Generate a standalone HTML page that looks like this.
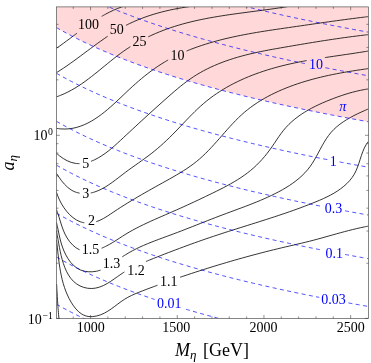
<!DOCTYPE html>
<html><head><meta charset="utf-8"><title>plot</title>
<style>html,body{margin:0;padding:0;background:#fff}svg{display:block}</style></head>
<body>
<svg width="371" height="363" viewBox="0 0 371 363">
<defs><filter id="g"><feOffset dx="0" dy="0"/></filter><clipPath id="c"><rect x="56.50" y="6.90" width="311.90" height="311.50"/></clipPath></defs>
<rect width="371" height="363" fill="#fff"/>
<g clip-path="url(#c)">
<path d="M56.50 6.90 L56.50 27.61 L60.50 29.88 L64.50 32.09 L68.50 34.23 L72.50 36.32 L76.50 38.36 L80.50 40.35 L84.50 42.29 L88.50 44.18 L92.50 46.03 L96.50 47.83 L100.50 49.60 L104.50 51.33 L108.50 53.02 L112.50 54.68 L116.50 56.31 L120.50 57.90 L124.50 59.46 L128.50 60.99 L132.50 62.49 L136.50 63.97 L140.50 65.41 L144.50 66.84 L148.50 68.23 L152.50 69.61 L156.50 70.96 L160.50 72.29 L164.50 73.59 L168.50 74.88 L172.50 76.14 L176.50 77.39 L180.50 78.61 L184.50 79.82 L188.50 81.01 L192.50 82.18 L196.50 83.34 L200.50 84.48 L204.50 85.60 L208.50 86.71 L212.50 87.80 L216.50 88.88 L220.50 89.94 L224.50 90.99 L228.50 92.03 L232.50 93.05 L236.50 94.06 L240.50 95.06 L244.50 96.05 L248.50 97.02 L252.50 97.98 L256.50 98.93 L260.50 99.87 L264.50 100.80 L268.50 101.72 L272.50 102.62 L276.50 103.52 L280.50 104.41 L284.50 105.28 L288.50 106.15 L292.50 107.01 L296.50 107.86 L300.50 108.70 L304.50 109.53 L308.50 110.35 L312.50 111.17 L316.50 111.98 L320.50 112.77 L324.50 113.57 L328.50 114.35 L332.50 115.12 L336.50 115.89 L340.50 116.65 L344.50 117.41 L348.50 118.15 L352.50 118.89 L356.50 119.62 L360.50 120.35 L364.50 121.07 L368.40 121.77 L368.40 6.90 Z" fill="#ffd9d9"/>
<g fill="none" stroke="#000" stroke-width="0.8">
<path d="M56.50 48.30C57.07 47.89 58.80 46.67 59.94 45.85C61.09 45.03 62.23 44.20 63.37 43.36C64.51 42.53 65.65 41.69 66.78 40.84C67.92 40.00 69.05 39.15 70.19 38.30C71.32 37.45 72.45 36.59 73.59 35.74C74.72 34.89 76.43 33.62 77.00 33.19M101.73 16.34C102.37 15.98 104.28 14.88 105.58 14.18C106.87 13.48 108.18 12.79 109.50 12.14C110.82 11.48 112.15 10.84 113.49 10.23C114.84 9.63 116.20 9.04 117.57 8.49C118.95 7.93 120.34 7.41 121.74 6.91C123.15 6.41 125.30 5.75 126.01 5.51"/>
<path d="M56.52 72.62C57.11 72.25 58.86 71.16 60.02 70.42C61.18 69.67 62.34 68.91 63.49 68.14C64.64 67.37 65.79 66.59 66.93 65.80C68.07 65.02 69.21 64.22 70.34 63.41C71.48 62.61 72.61 61.80 73.73 60.98C74.86 60.16 75.99 59.34 77.11 58.51C78.24 57.69 79.36 56.85 80.48 56.02C81.61 55.19 82.73 54.35 83.85 53.51C84.97 52.68 86.09 51.84 87.21 51.00C88.33 50.16 89.46 49.32 90.58 48.49C91.70 47.65 92.83 46.82 93.96 45.99C95.08 45.16 96.21 44.33 97.35 43.51C98.48 42.69 99.62 41.88 100.76 41.07C101.90 40.26 103.04 39.46 104.19 38.66C105.34 37.87 107.07 36.70 107.65 36.31M126.00 25.35C126.62 25.04 128.47 24.10 129.73 23.50C130.98 22.90 132.24 22.31 133.51 21.75C134.78 21.18 136.06 20.63 137.34 20.10C138.63 19.57 139.92 19.05 141.22 18.55C142.52 18.05 143.82 17.56 145.14 17.09C146.45 16.62 147.77 16.17 149.09 15.73C150.42 15.29 151.75 14.86 153.08 14.45C154.42 14.04 155.76 13.65 157.10 13.26C158.45 12.88 159.80 12.51 161.15 12.16C162.50 11.80 163.86 11.46 165.22 11.13C166.58 10.81 167.94 10.49 169.31 10.19C170.67 9.89 172.04 9.60 173.41 9.32C174.78 9.04 176.15 8.78 177.52 8.52C178.89 8.27 180.27 8.03 181.64 7.80C183.01 7.57 184.39 7.35 185.76 7.14C187.13 6.93 188.51 6.73 189.88 6.54C191.26 6.36 193.31 6.10 194.00 6.01"/>
<path d="M56.51 96.82C57.16 96.58 59.11 95.90 60.38 95.40C61.66 94.90 62.91 94.37 64.15 93.81C65.39 93.25 66.61 92.67 67.82 92.06C69.03 91.45 70.22 90.82 71.40 90.17C72.59 89.52 73.75 88.84 74.91 88.15C76.06 87.46 77.21 86.74 78.34 86.01C79.48 85.28 80.60 84.53 81.71 83.77C82.83 83.01 83.93 82.23 85.03 81.44C86.12 80.65 87.21 79.84 88.29 79.03C89.38 78.21 90.45 77.39 91.53 76.55C92.60 75.72 93.66 74.88 94.73 74.03C95.79 73.18 96.85 72.33 97.91 71.47C98.96 70.61 100.02 69.75 101.07 68.88C102.13 68.02 103.18 67.15 104.23 66.29C105.29 65.42 106.34 64.56 107.40 63.70C108.46 62.83 109.52 61.97 110.58 61.12C111.64 60.26 112.70 59.41 113.78 58.57C114.85 57.73 115.92 56.89 117.00 56.06C118.08 55.24 119.17 54.42 120.26 53.61C121.36 52.81 122.46 52.01 123.57 51.23C124.68 50.45 125.80 49.68 126.93 48.93C128.06 48.18 129.78 47.08 130.35 46.71M148.21 36.84C148.82 36.55 150.64 35.68 151.87 35.13C153.10 34.57 154.33 34.02 155.56 33.49C156.80 32.96 158.04 32.44 159.29 31.93C160.54 31.43 161.79 30.93 163.05 30.45C164.31 29.97 165.57 29.50 166.84 29.04C168.10 28.59 169.37 28.14 170.65 27.71C171.92 27.28 173.20 26.86 174.48 26.45C175.77 26.04 177.05 25.65 178.34 25.26C179.63 24.88 180.92 24.51 182.22 24.14C183.51 23.78 184.81 23.43 186.11 23.08C187.42 22.74 188.72 22.41 190.03 22.09C191.34 21.76 192.65 21.45 193.96 21.14C195.27 20.84 196.59 20.54 197.91 20.26C199.22 19.97 200.54 19.69 201.87 19.42C203.19 19.14 204.51 18.88 205.84 18.62C207.17 18.36 208.49 18.11 209.82 17.87C211.15 17.63 212.49 17.39 213.82 17.16C215.15 16.92 216.49 16.70 217.82 16.48C219.16 16.26 220.50 16.04 221.84 15.83C223.17 15.62 224.51 15.41 225.85 15.21C227.19 15.01 228.53 14.81 229.88 14.62C231.22 14.42 232.56 14.23 233.90 14.04C235.25 13.85 236.59 13.67 237.93 13.49C239.28 13.30 240.62 13.12 241.96 12.94C243.31 12.76 244.65 12.58 246.00 12.41C247.34 12.23 248.68 12.06 250.03 11.88C251.37 11.70 252.71 11.53 254.05 11.35C255.40 11.18 256.74 11.00 258.08 10.83C259.42 10.65 260.76 10.48 262.10 10.30C263.43 10.12 264.77 9.94 266.11 9.76C267.44 9.58 268.78 9.40 270.11 9.21C271.45 9.03 272.78 8.84 274.11 8.65C275.44 8.45 276.77 8.26 278.10 8.06C279.42 7.86 280.75 7.66 282.07 7.46C283.39 7.25 284.71 7.04 286.03 6.82C287.35 6.61 289.32 6.27 289.98 6.16"/>
<path d="M56.47 128.36C57.19 128.45 59.36 128.78 60.78 128.90C62.20 129.01 63.59 129.05 64.97 129.04C66.35 129.02 67.71 128.94 69.05 128.80C70.39 128.67 71.72 128.47 73.02 128.23C74.33 127.98 75.62 127.68 76.89 127.33C78.16 126.98 79.42 126.59 80.66 126.15C81.89 125.71 83.12 125.22 84.32 124.70C85.53 124.18 86.72 123.61 87.90 123.02C89.08 122.42 90.24 121.79 91.39 121.13C92.54 120.47 93.68 119.77 94.80 119.05C95.92 118.34 97.03 117.59 98.13 116.82C99.23 116.05 100.32 115.26 101.40 114.44C102.47 113.63 103.54 112.79 104.60 111.94C105.66 111.09 106.71 110.22 107.76 109.33C108.80 108.45 109.84 107.54 110.87 106.63C111.90 105.72 112.93 104.79 113.95 103.86C114.97 102.93 115.99 101.98 117.01 101.04C118.02 100.09 119.03 99.13 120.04 98.18C121.05 97.22 122.06 96.26 123.07 95.30C124.08 94.34 125.09 93.38 126.10 92.42C127.11 91.47 128.12 90.51 129.14 89.56C130.15 88.62 131.17 87.67 132.19 86.74C133.21 85.81 134.24 84.88 135.27 83.97C136.30 83.06 137.34 82.15 138.38 81.26C139.42 80.36 140.46 79.48 141.51 78.60C142.56 77.73 143.62 76.86 144.68 76.01C145.75 75.16 146.81 74.32 147.89 73.49C148.97 72.66 150.05 71.84 151.14 71.04C152.23 70.23 153.33 69.44 154.43 68.66C155.54 67.88 156.65 67.12 157.78 66.36C158.90 65.61 160.03 64.87 161.17 64.15C162.31 63.42 163.46 62.71 164.62 62.02C165.77 61.32 167.54 60.32 168.12 59.98M186.57 51.04C187.19 50.79 189.06 50.02 190.31 49.53C191.57 49.04 192.83 48.56 194.09 48.09C195.35 47.62 196.62 47.17 197.89 46.72C199.17 46.28 200.44 45.84 201.72 45.42C203.00 44.99 204.29 44.58 205.57 44.18C206.86 43.77 208.15 43.38 209.44 43.00C210.73 42.61 212.02 42.24 213.31 41.87C214.61 41.51 215.90 41.15 217.20 40.80C218.50 40.45 219.80 40.11 221.10 39.78C222.40 39.45 223.71 39.13 225.01 38.81C226.32 38.49 227.63 38.19 228.94 37.89C230.25 37.58 231.56 37.29 232.87 37.00C234.18 36.72 235.49 36.44 236.81 36.16C238.12 35.89 239.44 35.62 240.76 35.36C242.08 35.09 243.39 34.84 244.71 34.59C246.03 34.33 247.36 34.09 248.68 33.85C250.00 33.61 251.32 33.37 252.65 33.14C253.97 32.91 255.30 32.68 256.62 32.45C257.95 32.23 259.28 32.01 260.60 31.79C261.93 31.58 263.26 31.36 264.59 31.15C265.91 30.94 267.24 30.74 268.57 30.53C269.90 30.33 271.23 30.12 272.56 29.92C273.89 29.72 275.22 29.53 276.55 29.33C277.89 29.13 279.22 28.94 280.55 28.74C281.88 28.55 283.21 28.35 284.54 28.16C285.87 27.97 287.20 27.78 288.53 27.59C289.86 27.39 291.19 27.20 292.52 27.01C293.86 26.82 295.19 26.63 296.52 26.43C297.85 26.24 299.17 26.05 300.50 25.86C301.83 25.66 303.16 25.47 304.49 25.28C305.82 25.09 307.15 24.89 308.48 24.70C309.81 24.51 311.14 24.32 312.47 24.13C313.80 23.93 315.13 23.74 316.45 23.55C317.78 23.36 319.11 23.17 320.44 22.98C321.77 22.79 323.10 22.60 324.43 22.41C325.76 22.22 327.09 22.04 328.42 21.85C329.75 21.66 331.08 21.48 332.41 21.29C333.74 21.11 335.07 20.92 336.40 20.74C337.73 20.55 339.06 20.37 340.39 20.19C341.72 20.01 343.05 19.83 344.38 19.65C345.71 19.47 347.05 19.29 348.38 19.12C349.71 18.94 351.04 18.77 352.38 18.59C353.71 18.42 355.04 18.25 356.38 18.08C357.71 17.91 359.05 17.74 360.38 17.57C361.72 17.41 363.05 17.24 364.39 17.08C365.73 16.91 367.73 16.67 368.40 16.59"/>
<path d="M56.50 153.30C57.04 153.75 58.58 155.13 59.71 156.00C60.84 156.87 62.04 157.74 63.27 158.53C64.50 159.31 65.79 160.06 67.10 160.70C68.41 161.35 69.77 161.93 71.13 162.37C72.49 162.82 73.89 163.16 75.28 163.37C76.68 163.59 78.79 163.60 79.49 163.65M91.03 161.31C91.64 161.04 93.51 160.30 94.73 159.72C95.94 159.14 97.14 158.51 98.31 157.84C99.49 157.17 100.65 156.46 101.78 155.72C102.92 154.99 104.03 154.22 105.12 153.43C106.21 152.64 107.28 151.83 108.34 151.00C109.40 150.17 110.43 149.32 111.46 148.46C112.49 147.60 113.50 146.72 114.51 145.83C115.51 144.95 116.51 144.04 117.50 143.14C118.49 142.24 119.47 141.32 120.46 140.41C121.44 139.50 122.42 138.58 123.40 137.66C124.38 136.75 125.36 135.83 126.34 134.92C127.32 134.01 128.30 133.09 129.29 132.18C130.27 131.27 131.25 130.36 132.23 129.44C133.22 128.53 134.20 127.62 135.19 126.71C136.17 125.80 137.15 124.89 138.14 123.98C139.13 123.07 140.11 122.17 141.10 121.26C142.09 120.35 143.08 119.44 144.07 118.54C145.05 117.63 146.04 116.73 147.04 115.82C148.03 114.92 149.02 114.01 150.01 113.11C151.01 112.21 152.00 111.30 153.00 110.40C153.99 109.50 154.99 108.60 155.99 107.70C156.99 106.80 157.99 105.90 158.99 105.00C159.99 104.10 160.99 103.20 162.00 102.30C163.00 101.40 164.01 100.51 165.02 99.61C166.03 98.71 167.04 97.82 168.05 96.92C169.06 96.03 170.07 95.14 171.09 94.25C172.11 93.36 173.13 92.48 174.15 91.60C175.18 90.72 176.21 89.84 177.24 88.98C178.28 88.12 179.32 87.26 180.37 86.41C181.42 85.56 182.47 84.73 183.53 83.90C184.59 83.08 185.66 82.26 186.74 81.46C187.82 80.66 188.91 79.88 190.01 79.11C191.11 78.34 192.22 77.59 193.34 76.85C194.45 76.12 195.59 75.40 196.73 74.70C197.87 74.00 199.02 73.32 200.18 72.66C201.34 71.99 202.52 71.34 203.70 70.71C204.88 70.08 206.07 69.47 207.27 68.87C208.47 68.27 209.68 67.69 210.89 67.12C212.11 66.56 213.33 66.01 214.56 65.47C215.79 64.93 217.03 64.41 218.28 63.90C219.52 63.40 220.77 62.90 222.03 62.42C223.29 61.94 224.55 61.48 225.82 61.03C227.09 60.57 228.36 60.13 229.64 59.71C230.92 59.28 232.20 58.87 233.49 58.46C234.77 58.06 236.06 57.67 237.36 57.29C238.65 56.91 239.95 56.55 241.25 56.19C242.54 55.83 243.85 55.49 245.15 55.15C246.45 54.82 247.76 54.49 249.07 54.18C250.37 53.86 251.68 53.56 252.99 53.26C254.30 52.96 255.61 52.67 256.93 52.39C258.24 52.10 259.56 51.83 260.87 51.56C262.19 51.29 263.50 51.03 264.82 50.77C266.14 50.51 267.46 50.26 268.78 50.01C270.10 49.76 271.42 49.52 272.74 49.28C274.06 49.04 275.39 48.80 276.71 48.57C278.03 48.33 279.36 48.10 280.68 47.87C282.00 47.64 283.33 47.41 284.65 47.18C285.98 46.95 287.30 46.72 288.63 46.49C289.95 46.26 291.27 46.03 292.60 45.81C293.92 45.58 295.25 45.35 296.57 45.13C297.90 44.90 299.23 44.68 300.55 44.46C301.88 44.23 303.20 44.01 304.53 43.79C305.86 43.57 307.18 43.35 308.51 43.13C309.83 42.91 311.16 42.69 312.49 42.47C313.82 42.26 315.14 42.04 316.47 41.83C317.80 41.62 319.13 41.41 320.45 41.20C321.78 40.99 323.11 40.78 324.44 40.57C325.77 40.37 327.10 40.16 328.43 39.96C329.76 39.76 331.09 39.56 332.42 39.36C333.75 39.16 335.08 38.96 336.41 38.77C337.74 38.57 339.07 38.38 340.40 38.19C341.73 38.00 343.06 37.82 344.39 37.63C345.72 37.45 347.06 37.27 348.39 37.09C349.72 36.91 351.05 36.73 352.39 36.56C353.72 36.39 355.05 36.21 356.39 36.05C357.72 35.88 359.06 35.71 360.39 35.55C361.72 35.39 363.06 35.23 364.40 35.08C365.73 34.92 367.73 34.70 368.40 34.62"/>
<path d="M56.51 173.39C56.90 173.99 58.03 175.79 58.86 177.01C59.69 178.22 60.56 179.48 61.49 180.68C62.42 181.87 63.40 183.08 64.44 184.20C65.48 185.32 66.56 186.42 67.71 187.40C68.86 188.37 70.07 189.29 71.34 190.06C72.60 190.83 73.94 191.50 75.32 192.02C76.70 192.53 78.89 192.98 79.60 193.18M90.76 193.00C91.39 192.84 93.28 192.42 94.51 192.03C95.75 191.64 96.97 191.18 98.18 190.67C99.38 190.16 100.58 189.59 101.76 188.98C102.94 188.37 104.11 187.70 105.27 187.01C106.43 186.31 107.58 185.57 108.72 184.81C109.86 184.05 111.00 183.26 112.12 182.45C113.25 181.64 114.37 180.80 115.48 179.97C116.59 179.13 117.70 178.27 118.80 177.43C119.91 176.58 121.01 175.72 122.11 174.88C123.20 174.03 124.30 173.19 125.39 172.37C126.49 171.55 127.58 170.75 128.67 169.95C129.77 169.15 130.86 168.37 131.94 167.59C133.03 166.81 134.12 166.04 135.20 165.27C136.28 164.50 137.37 163.74 138.44 162.98C139.52 162.21 140.59 161.45 141.66 160.69C142.73 159.92 143.80 159.16 144.86 158.38C145.92 157.61 146.98 156.84 148.04 156.05C149.09 155.26 150.14 154.47 151.18 153.66C152.22 152.85 153.26 152.03 154.29 151.19C155.32 150.36 156.35 149.51 157.37 148.64C158.39 147.78 159.40 146.90 160.41 146.02C161.42 145.13 162.42 144.23 163.42 143.32C164.41 142.41 165.40 141.49 166.39 140.56C167.37 139.63 168.35 138.69 169.32 137.74C170.29 136.79 171.26 135.83 172.22 134.87C173.18 133.91 174.13 132.94 175.08 131.97C176.03 131.00 176.97 130.02 177.91 129.04C178.85 128.06 179.79 127.07 180.73 126.09C181.67 125.11 182.60 124.12 183.54 123.14C184.47 122.15 185.41 121.17 186.34 120.19C187.28 119.22 188.22 118.24 189.16 117.27C190.11 116.30 191.05 115.33 192.00 114.38C192.95 113.42 193.91 112.47 194.87 111.53C195.84 110.59 196.80 109.65 197.78 108.73C198.76 107.81 199.74 106.90 200.74 106.01C201.74 105.11 202.74 104.23 203.76 103.36C204.78 102.49 205.80 101.64 206.84 100.80C207.88 99.97 208.93 99.15 210.00 98.34C211.06 97.53 212.13 96.74 213.21 95.96C214.30 95.19 215.39 94.43 216.49 93.68C217.60 92.93 218.71 92.20 219.83 91.48C220.96 90.76 222.09 90.05 223.23 89.36C224.37 88.67 225.52 87.99 226.68 87.33C227.84 86.67 229.01 86.02 230.18 85.38C231.36 84.74 232.54 84.12 233.73 83.51C234.92 82.90 236.12 82.30 237.33 81.72C238.53 81.13 239.75 80.56 240.97 80.00C242.19 79.44 243.41 78.89 244.64 78.36C245.88 77.82 247.11 77.30 248.36 76.78C249.60 76.27 250.85 75.77 252.11 75.28C253.36 74.79 254.62 74.32 255.89 73.85C257.15 73.39 258.42 72.93 259.69 72.49C260.97 72.04 262.24 71.61 263.52 71.19C264.81 70.76 266.09 70.35 267.38 69.95C268.67 69.55 269.96 69.16 271.25 68.77C272.55 68.39 273.85 68.02 275.15 67.66C276.44 67.30 277.75 66.94 279.05 66.60C280.35 66.26 281.66 65.92 282.97 65.60C284.27 65.27 285.58 64.96 286.89 64.65C288.20 64.34 289.51 64.05 290.82 63.76C292.13 63.47 293.45 63.18 294.76 62.91C296.07 62.63 297.39 62.36 298.71 62.10C300.02 61.84 301.34 61.58 302.66 61.34C303.97 61.09 305.95 60.73 306.61 60.61M324.90 57.59C325.62 57.49 327.79 57.16 329.24 56.94C330.69 56.72 332.14 56.51 333.59 56.30C335.03 56.09 336.48 55.87 337.93 55.66C339.38 55.45 340.83 55.24 342.28 55.03C343.73 54.82 345.18 54.61 346.63 54.39C348.09 54.18 349.54 53.97 350.99 53.75C352.44 53.53 353.89 53.32 355.34 53.09C356.79 52.87 358.24 52.65 359.70 52.42C361.15 52.19 362.60 51.96 364.05 51.72C365.50 51.48 367.68 51.12 368.40 51.00"/>
<path d="M56.51 192.31C56.73 192.94 57.32 194.81 57.82 196.09C58.32 197.37 58.89 198.69 59.51 199.99C60.14 201.29 60.82 202.62 61.56 203.91C62.30 205.20 63.10 206.49 63.95 207.73C64.80 208.97 65.71 210.20 66.66 211.36C67.61 212.52 68.62 213.64 69.67 214.68C70.72 215.72 71.82 216.71 72.96 217.60C74.10 218.48 75.29 219.30 76.51 220.00C77.74 220.69 79.00 221.30 80.31 221.77C81.61 222.24 83.65 222.64 84.32 222.82M96.28 221.68C96.90 221.44 98.80 220.77 100.02 220.23C101.25 219.68 102.44 219.05 103.62 218.40C104.80 217.75 105.95 217.03 107.10 216.31C108.25 215.59 109.38 214.82 110.51 214.07C111.65 213.31 112.77 212.53 113.90 211.78C115.03 211.02 116.16 210.27 117.30 209.52C118.43 208.78 119.56 208.05 120.70 207.32C121.84 206.59 122.98 205.87 124.12 205.15C125.26 204.44 126.40 203.73 127.54 203.02C128.69 202.32 129.83 201.62 130.98 200.93C132.13 200.23 133.27 199.55 134.43 198.86C135.58 198.18 136.73 197.50 137.88 196.82C139.04 196.15 140.19 195.48 141.35 194.81C142.51 194.14 143.67 193.47 144.83 192.81C145.99 192.15 147.15 191.48 148.32 190.83C149.48 190.17 150.65 189.51 151.82 188.85C152.99 188.20 154.16 187.54 155.33 186.89C156.50 186.23 157.67 185.58 158.85 184.93C160.02 184.27 161.20 183.62 162.38 182.96C163.55 182.31 164.73 181.65 165.92 181.00C167.10 180.34 168.28 179.68 169.46 179.02C170.64 178.36 171.82 177.69 172.99 177.02C174.17 176.34 175.34 175.67 176.51 174.98C177.68 174.30 178.85 173.60 180.00 172.90C181.16 172.20 182.31 171.49 183.45 170.76C184.59 170.04 185.72 169.31 186.85 168.56C187.97 167.81 189.08 167.05 190.18 166.28C191.28 165.50 192.37 164.71 193.44 163.90C194.51 163.09 195.57 162.27 196.61 161.42C197.66 160.58 198.68 159.72 199.69 158.84C200.71 157.96 201.70 157.06 202.68 156.15C203.67 155.23 204.64 154.30 205.59 153.36C206.55 152.42 207.50 151.46 208.44 150.50C209.37 149.53 210.30 148.56 211.22 147.57C212.14 146.59 213.06 145.59 213.97 144.59C214.87 143.59 215.78 142.58 216.67 141.57C217.57 140.56 218.47 139.55 219.36 138.53C220.26 137.52 221.15 136.50 222.04 135.48C222.93 134.46 223.82 133.44 224.72 132.43C225.61 131.41 226.51 130.40 227.41 129.39C228.31 128.39 229.21 127.38 230.12 126.39C231.03 125.39 231.95 124.40 232.87 123.42C233.80 122.44 234.73 121.47 235.67 120.51C236.61 119.56 237.56 118.61 238.53 117.68C239.49 116.74 240.46 115.82 241.45 114.92C242.44 114.02 243.44 113.13 244.46 112.26C245.47 111.39 246.51 110.54 247.55 109.71C248.60 108.87 249.66 108.06 250.74 107.26C251.81 106.46 252.90 105.68 254.00 104.92C255.10 104.15 256.22 103.41 257.34 102.68C258.47 101.94 259.61 101.23 260.75 100.53C261.90 99.83 263.06 99.15 264.23 98.48C265.39 97.81 266.57 97.16 267.76 96.53C268.95 95.89 270.14 95.27 271.34 94.66C272.55 94.05 273.76 93.46 274.98 92.88C276.19 92.30 277.42 91.73 278.65 91.18C279.88 90.63 281.12 90.09 282.36 89.56C283.60 89.03 284.84 88.52 286.09 88.02C287.34 87.52 288.60 87.03 289.86 86.56C291.11 86.08 292.38 85.61 293.64 85.16C294.91 84.71 296.18 84.27 297.45 83.84C298.73 83.41 300.01 82.99 301.29 82.58C302.57 82.17 303.85 81.77 305.14 81.38C306.43 80.99 307.72 80.62 309.01 80.25C310.30 79.88 311.60 79.52 312.90 79.17C314.20 78.82 315.50 78.48 316.80 78.15C318.11 77.82 319.41 77.49 320.72 77.18C322.03 76.86 323.34 76.56 324.65 76.26C325.97 75.96 327.28 75.67 328.60 75.39C329.91 75.10 331.23 74.83 332.55 74.56C333.87 74.29 335.19 74.02 336.52 73.77C337.84 73.51 339.16 73.26 340.49 73.02C341.81 72.77 343.14 72.53 344.47 72.30C345.80 72.07 347.12 71.84 348.45 71.62C349.78 71.40 351.11 71.18 352.44 70.97C353.77 70.75 355.10 70.55 356.43 70.34C357.76 70.14 359.09 69.94 360.42 69.74C361.75 69.54 363.08 69.35 364.41 69.16C365.74 68.97 367.73 68.69 368.40 68.60"/>
<path d="M56.50 209.70C56.74 210.38 57.50 212.40 57.96 213.76C58.43 215.12 58.84 216.49 59.27 217.86C59.70 219.23 60.10 220.60 60.52 221.97C60.95 223.34 61.36 224.71 61.82 226.06C62.28 227.42 62.75 228.77 63.27 230.10C63.80 231.43 64.35 232.75 64.98 234.05C65.62 235.34 66.29 236.63 67.06 237.88C67.82 239.13 68.67 240.38 69.59 241.54C70.50 242.71 71.50 243.86 72.56 244.89C73.61 245.92 74.74 246.89 75.91 247.71C77.08 248.52 78.97 249.44 79.58 249.79M101.62 248.20C102.26 247.91 104.22 247.08 105.48 246.47C106.74 245.86 107.98 245.20 109.19 244.53C110.39 243.87 111.56 243.18 112.71 242.49C113.86 241.80 114.97 241.09 116.08 240.38C117.18 239.67 118.27 238.95 119.36 238.24C120.45 237.53 121.52 236.82 122.61 236.12C123.71 235.42 124.80 234.73 125.91 234.05C127.02 233.38 128.15 232.71 129.28 232.06C130.42 231.40 131.57 230.76 132.72 230.13C133.88 229.49 135.05 228.87 136.23 228.26C137.40 227.64 138.59 227.04 139.78 226.44C140.98 225.85 142.18 225.26 143.39 224.68C144.59 224.09 145.81 223.52 147.03 222.95C148.24 222.38 149.47 221.82 150.70 221.26C151.92 220.70 153.16 220.15 154.39 219.60C155.62 219.05 156.86 218.50 158.10 217.96C159.34 217.42 160.58 216.88 161.82 216.34C163.06 215.80 164.30 215.26 165.53 214.73C166.77 214.19 168.01 213.65 169.24 213.12C170.48 212.58 171.71 212.04 172.93 211.50C174.16 210.96 175.39 210.42 176.61 209.88C177.83 209.34 179.04 208.80 180.26 208.25C181.48 207.71 182.69 207.16 183.90 206.61C185.11 206.06 186.32 205.51 187.52 204.96C188.73 204.41 189.93 203.86 191.14 203.30C192.34 202.74 193.54 202.19 194.74 201.62C195.94 201.06 197.14 200.50 198.34 199.94C199.54 199.37 200.74 198.80 201.94 198.23C203.14 197.66 204.34 197.09 205.54 196.51C206.74 195.94 207.94 195.36 209.14 194.78C210.34 194.20 211.55 193.61 212.75 193.03C213.95 192.44 215.16 191.85 216.36 191.26C217.56 190.66 218.77 190.06 219.97 189.45C221.17 188.85 222.36 188.24 223.56 187.62C224.75 186.99 225.94 186.37 227.13 185.73C228.31 185.09 229.49 184.45 230.66 183.79C231.83 183.13 233.00 182.46 234.15 181.78C235.30 181.10 236.45 180.41 237.59 179.70C238.72 178.99 239.85 178.27 240.96 177.54C242.07 176.80 243.17 176.05 244.26 175.28C245.35 174.51 246.42 173.72 247.48 172.92C248.53 172.12 249.58 171.29 250.60 170.45C251.62 169.61 252.63 168.75 253.62 167.86C254.61 166.98 255.58 166.08 256.54 165.16C257.49 164.23 258.43 163.29 259.35 162.33C260.27 161.38 261.18 160.40 262.07 159.41C262.96 158.41 263.83 157.40 264.69 156.38C265.54 155.35 266.39 154.31 267.21 153.25C268.04 152.20 268.85 151.13 269.65 150.04C270.45 148.96 271.23 147.86 272.01 146.75C272.78 145.65 273.53 144.52 274.29 143.40C275.05 142.28 275.79 141.15 276.55 140.03C277.30 138.90 278.05 137.78 278.82 136.67C279.59 135.57 280.36 134.46 281.16 133.39C281.95 132.31 282.76 131.25 283.60 130.21C284.44 129.18 285.30 128.17 286.19 127.19C287.08 126.21 288.00 125.26 288.94 124.33C289.88 123.40 290.85 122.50 291.84 121.62C292.82 120.74 293.84 119.89 294.87 119.06C295.90 118.23 296.95 117.42 298.02 116.64C299.09 115.85 300.17 115.09 301.28 114.34C302.38 113.60 303.51 112.88 304.64 112.18C305.78 111.47 306.93 110.79 308.09 110.12C309.25 109.46 310.43 108.81 311.62 108.18C312.80 107.55 314.00 106.94 315.21 106.34C316.41 105.74 317.63 105.16 318.85 104.59C320.08 104.02 321.31 103.47 322.54 102.93C323.77 102.38 325.02 101.86 326.26 101.34C327.50 100.82 328.75 100.32 330.00 99.82C331.24 99.33 332.49 98.84 333.74 98.37C334.99 97.90 336.24 97.43 337.49 96.98C338.75 96.53 340.00 96.09 341.26 95.66C342.52 95.24 343.77 94.82 345.04 94.42C346.30 94.02 347.57 93.63 348.84 93.26C350.12 92.89 351.39 92.53 352.68 92.18C353.96 91.84 355.25 91.52 356.54 91.21C357.84 90.90 359.14 90.60 360.45 90.33C361.76 90.05 363.07 89.79 364.40 89.56C365.73 89.32 367.73 89.01 368.40 88.90"/>
<path d="M56.50 222.60C56.66 223.30 57.15 225.40 57.46 226.78C57.76 228.16 58.03 229.53 58.32 230.88C58.60 232.24 58.87 233.59 59.16 234.93C59.46 236.27 59.75 237.60 60.07 238.94C60.40 240.27 60.74 241.60 61.13 242.94C61.51 244.27 61.93 245.60 62.40 246.94C62.87 248.28 63.39 249.64 63.96 250.97C64.53 252.30 65.16 253.64 65.84 254.93C66.52 256.23 67.25 257.51 68.04 258.72C68.82 259.94 69.67 261.12 70.56 262.22C71.46 263.32 72.42 264.38 73.43 265.32C74.44 266.27 75.51 267.15 76.64 267.91C77.77 268.67 78.96 269.33 80.20 269.87C81.44 270.41 82.74 270.83 84.07 271.15C85.40 271.47 86.78 271.67 88.15 271.77C89.53 271.88 90.95 271.88 92.34 271.78C93.74 271.69 95.15 271.50 96.52 271.22C97.90 270.94 99.91 270.30 100.58 270.12M122.26 256.86C122.82 256.50 124.52 255.37 125.67 254.66C126.81 253.95 127.97 253.26 129.14 252.59C130.31 251.92 131.49 251.27 132.67 250.64C133.86 250.01 135.06 249.40 136.26 248.80C137.47 248.21 138.68 247.63 139.90 247.07C141.12 246.50 142.34 245.95 143.57 245.41C144.81 244.87 146.04 244.35 147.29 243.83C148.53 243.32 149.78 242.81 151.03 242.32C152.28 241.82 153.54 241.33 154.79 240.85C156.05 240.36 157.31 239.89 158.58 239.41C159.84 238.94 161.11 238.47 162.37 238.00C163.64 237.53 164.91 237.07 166.18 236.60C167.44 236.14 168.71 235.67 169.98 235.20C171.25 234.74 172.51 234.26 173.78 233.79C175.04 233.32 176.31 232.84 177.57 232.36C178.83 231.88 180.09 231.40 181.35 230.91C182.61 230.43 183.87 229.94 185.13 229.45C186.39 228.96 187.64 228.47 188.90 227.98C190.16 227.49 191.41 226.99 192.67 226.50C193.92 226.01 195.18 225.51 196.43 225.02C197.69 224.52 198.94 224.03 200.19 223.53C201.45 223.04 202.70 222.54 203.95 222.05C205.21 221.56 206.46 221.07 207.71 220.57C208.97 220.08 210.22 219.59 211.47 219.10C212.73 218.62 213.98 218.13 215.24 217.65C216.49 217.16 217.74 216.68 219.00 216.20C220.26 215.72 221.51 215.24 222.77 214.77C224.02 214.30 225.28 213.83 226.54 213.36C227.80 212.89 229.06 212.43 230.31 211.96C231.57 211.50 232.83 211.03 234.09 210.57C235.35 210.10 236.61 209.64 237.86 209.17C239.12 208.71 240.38 208.24 241.64 207.77C242.89 207.30 244.15 206.83 245.40 206.35C246.66 205.87 247.91 205.39 249.16 204.91C250.42 204.42 251.67 203.93 252.92 203.44C254.17 202.94 255.42 202.44 256.66 201.93C257.91 201.42 259.15 200.90 260.40 200.38C261.64 199.85 262.88 199.32 264.12 198.77C265.35 198.23 266.59 197.68 267.82 197.11C269.06 196.55 270.29 195.98 271.51 195.39C272.74 194.80 273.96 194.20 275.18 193.59C276.40 192.98 277.61 192.36 278.82 191.72C280.02 191.07 281.22 190.42 282.40 189.75C283.59 189.08 284.76 188.39 285.92 187.69C287.08 186.98 288.23 186.26 289.36 185.52C290.50 184.78 291.61 184.02 292.71 183.24C293.81 182.46 294.89 181.66 295.95 180.84C297.01 180.02 298.05 179.18 299.06 178.31C300.07 177.45 301.07 176.56 302.03 175.65C303.00 174.73 303.94 173.80 304.85 172.83C305.76 171.87 306.64 170.88 307.49 169.87C308.34 168.85 309.17 167.81 309.95 166.74C310.74 165.67 311.49 164.56 312.22 163.44C312.95 162.32 313.65 161.18 314.33 160.02C315.02 158.86 315.68 157.68 316.34 156.50C316.99 155.32 317.63 154.12 318.27 152.93C318.92 151.73 319.55 150.53 320.19 149.33C320.83 148.14 321.47 146.94 322.13 145.75C322.79 144.57 323.45 143.39 324.14 142.24C324.83 141.08 325.54 139.93 326.27 138.81C327.01 137.69 327.76 136.59 328.56 135.52C329.36 134.45 330.18 133.40 331.05 132.40C331.92 131.39 332.84 130.41 333.79 129.47C334.74 128.53 335.73 127.63 336.75 126.75C337.77 125.88 338.83 125.03 339.91 124.22C340.99 123.40 342.10 122.61 343.23 121.85C344.36 121.09 345.52 120.36 346.69 119.64C347.85 118.93 349.04 118.25 350.24 117.58C351.44 116.91 352.65 116.27 353.86 115.64C355.08 115.02 356.30 114.41 357.52 113.82C358.74 113.23 359.97 112.66 361.18 112.10C362.40 111.54 363.61 110.99 364.82 110.46C366.02 109.93 367.79 109.16 368.39 108.89"/>
<path d="M56.49 231.31C56.62 231.97 57.02 233.97 57.26 235.31C57.51 236.64 57.75 237.97 57.98 239.31C58.22 240.64 58.45 241.97 58.69 243.31C58.93 244.65 59.16 245.98 59.42 247.32C59.67 248.66 59.93 250.00 60.21 251.34C60.49 252.68 60.78 254.02 61.10 255.36C61.42 256.71 61.76 258.05 62.14 259.40C62.51 260.74 62.91 262.10 63.35 263.44C63.79 264.78 64.27 266.13 64.79 267.44C65.31 268.75 65.87 270.05 66.48 271.31C67.09 272.56 67.75 273.80 68.46 274.97C69.18 276.14 69.95 277.28 70.78 278.34C71.61 279.41 72.50 280.42 73.46 281.35C74.42 282.27 75.46 283.13 76.55 283.89C77.64 284.66 78.81 285.34 80.01 285.93C81.21 286.51 82.48 287.01 83.76 287.40C85.04 287.80 86.37 288.09 87.69 288.28C89.02 288.46 90.38 288.54 91.72 288.51C93.06 288.48 94.42 288.32 95.75 288.08C97.08 287.83 98.40 287.47 99.70 287.03C100.99 286.60 102.26 286.06 103.51 285.48C104.76 284.89 105.99 284.22 107.19 283.53C108.39 282.84 109.57 282.08 110.73 281.33C111.89 280.57 113.03 279.77 114.17 278.98C115.30 278.19 116.42 277.38 117.55 276.58C118.68 275.79 119.80 274.99 120.94 274.22C122.08 273.45 123.81 272.35 124.38 271.98M145.94 261.51C146.55 261.26 148.40 260.49 149.64 259.98C150.88 259.48 152.12 258.98 153.36 258.48C154.60 257.98 155.84 257.49 157.09 257.00C158.33 256.51 159.58 256.02 160.82 255.54C162.07 255.05 163.32 254.57 164.56 254.08C165.81 253.60 167.06 253.12 168.30 252.64C169.55 252.16 170.80 251.68 172.05 251.20C173.30 250.73 174.55 250.25 175.80 249.78C177.05 249.31 178.30 248.84 179.55 248.37C180.80 247.90 182.05 247.43 183.31 246.97C184.56 246.51 185.81 246.04 187.06 245.58C188.32 245.12 189.57 244.67 190.83 244.21C192.08 243.76 193.34 243.30 194.60 242.85C195.85 242.40 197.11 241.96 198.37 241.51C199.63 241.07 200.88 240.62 202.14 240.18C203.40 239.75 204.66 239.31 205.92 238.87C207.19 238.44 208.45 238.01 209.71 237.58C210.97 237.15 212.24 236.72 213.50 236.30C214.76 235.88 216.03 235.46 217.30 235.04C218.56 234.62 219.83 234.21 221.09 233.80C222.36 233.38 223.63 232.97 224.90 232.56C226.16 232.15 227.43 231.75 228.70 231.34C229.97 230.93 231.24 230.53 232.51 230.13C233.78 229.72 235.05 229.32 236.32 228.92C237.59 228.52 238.86 228.12 240.13 227.72C241.40 227.32 242.67 226.92 243.95 226.52C245.22 226.12 246.49 225.73 247.76 225.33C249.03 224.93 250.30 224.53 251.57 224.13C252.84 223.73 254.12 223.33 255.39 222.93C256.66 222.53 257.93 222.13 259.20 221.73C260.47 221.32 261.74 220.92 263.01 220.51C264.28 220.11 265.55 219.70 266.82 219.29C268.09 218.89 269.36 218.48 270.63 218.06C271.90 217.65 273.17 217.24 274.43 216.82C275.70 216.41 276.97 215.99 278.23 215.57C279.50 215.14 280.77 214.72 282.03 214.29C283.30 213.86 284.56 213.43 285.83 213.00C287.09 212.57 288.35 212.13 289.61 211.69C290.88 211.25 292.14 210.80 293.40 210.36C294.66 209.91 295.92 209.45 297.18 209.00C298.43 208.54 299.69 208.08 300.95 207.61C302.20 207.15 303.46 206.68 304.71 206.20C305.97 205.73 307.22 205.25 308.47 204.76C309.72 204.27 310.97 203.78 312.22 203.29C313.47 202.79 314.72 202.29 315.96 201.78C317.21 201.27 318.45 200.75 319.69 200.22C320.92 199.69 322.15 199.15 323.37 198.60C324.59 198.04 325.81 197.48 327.01 196.89C328.21 196.30 329.40 195.69 330.58 195.06C331.76 194.44 332.92 193.79 334.07 193.11C335.21 192.44 336.34 191.74 337.45 191.01C338.56 190.28 339.65 189.53 340.72 188.74C341.79 187.95 342.84 187.13 343.85 186.27C344.87 185.42 345.87 184.53 346.82 183.61C347.77 182.68 348.69 181.73 349.56 180.73C350.43 179.74 351.26 178.71 352.04 177.65C352.81 176.59 353.53 175.48 354.20 174.35C354.86 173.21 355.45 172.03 356.01 170.83C356.56 169.63 357.05 168.39 357.53 167.15C358.00 165.90 358.43 164.62 358.86 163.34C359.29 162.07 359.69 160.77 360.10 159.49C360.51 158.20 360.91 156.91 361.35 155.63C361.78 154.36 362.22 153.08 362.70 151.84C363.19 150.59 363.69 149.36 364.26 148.16C364.83 146.97 365.44 145.79 366.13 144.66C366.81 143.54 368.01 141.94 368.39 141.40"/>
<path d="M56.49 240.00C56.57 240.66 56.80 242.63 56.94 243.95C57.09 245.26 57.23 246.59 57.38 247.91C57.52 249.24 57.66 250.57 57.81 251.90C57.95 253.23 58.10 254.56 58.25 255.89C58.41 257.22 58.56 258.56 58.73 259.89C58.90 261.22 59.07 262.56 59.26 263.89C59.45 265.22 59.65 266.55 59.86 267.88C60.07 269.20 60.30 270.53 60.54 271.85C60.79 273.17 61.05 274.49 61.33 275.80C61.61 277.11 61.91 278.42 62.23 279.72C62.56 281.02 62.90 282.31 63.28 283.60C63.65 284.89 64.05 286.17 64.47 287.44C64.90 288.71 65.36 289.98 65.84 291.23C66.33 292.48 66.85 293.73 67.40 294.96C67.96 296.20 68.55 297.42 69.17 298.63C69.80 299.84 70.46 301.05 71.16 302.23C71.87 303.41 72.61 304.59 73.40 305.70C74.19 306.82 75.01 307.91 75.89 308.92C76.77 309.93 77.69 310.89 78.67 311.75C79.64 312.60 80.66 313.39 81.74 314.05C82.81 314.70 83.94 315.27 85.12 315.68C86.30 316.10 87.56 316.38 88.83 316.52C90.11 316.67 91.45 316.67 92.78 316.58C94.11 316.48 95.47 316.26 96.79 315.96C98.11 315.65 99.43 315.24 100.70 314.77C101.96 314.30 103.19 313.73 104.39 313.13C105.59 312.52 106.75 311.84 107.89 311.13C109.04 310.43 110.15 309.66 111.26 308.88C112.37 308.11 113.46 307.29 114.55 306.48C115.64 305.67 116.71 304.84 117.80 304.03C118.89 303.22 119.97 302.40 121.07 301.62C122.18 300.84 123.28 300.08 124.41 299.36C125.55 298.65 126.70 297.97 127.87 297.33C129.03 296.69 130.22 296.09 131.42 295.51C132.62 294.93 133.84 294.39 135.06 293.86C136.28 293.33 137.51 292.83 138.75 292.33C139.99 291.83 141.24 291.35 142.48 290.87C143.73 290.39 144.98 289.92 146.23 289.44C147.48 288.97 148.73 288.50 149.98 288.03C151.23 287.56 152.49 287.09 153.74 286.63C155.00 286.16 156.88 285.47 157.51 285.24M180.09 277.27C180.73 277.05 182.65 276.40 183.94 275.97C185.23 275.53 186.51 275.10 187.80 274.67C189.09 274.25 190.37 273.82 191.66 273.39C192.95 272.97 194.24 272.55 195.53 272.13C196.82 271.71 198.11 271.29 199.40 270.88C200.69 270.46 201.98 270.05 203.27 269.64C204.57 269.23 205.86 268.82 207.15 268.41C208.45 268.01 209.74 267.61 211.04 267.20C212.33 266.80 213.63 266.40 214.92 266.01C216.22 265.61 217.52 265.22 218.81 264.82C220.11 264.43 221.41 264.04 222.71 263.65C224.01 263.27 225.31 262.88 226.61 262.50C227.91 262.12 229.21 261.73 230.51 261.36C231.81 260.98 233.11 260.60 234.41 260.23C235.72 259.86 237.02 259.49 238.32 259.12C239.63 258.75 240.93 258.38 242.24 258.02C243.54 257.65 244.85 257.29 246.16 256.93C247.46 256.57 248.77 256.22 250.08 255.86C251.39 255.51 252.70 255.16 254.01 254.81C255.32 254.46 256.63 254.11 257.94 253.77C259.25 253.42 260.56 253.08 261.87 252.74C263.18 252.40 264.50 252.07 265.81 251.73C267.12 251.40 268.44 251.06 269.75 250.73C271.07 250.41 272.39 250.08 273.70 249.75C275.02 249.43 276.34 249.11 277.65 248.79C278.97 248.47 280.29 248.15 281.61 247.84C282.93 247.52 284.25 247.21 285.57 246.90C286.89 246.59 288.21 246.28 289.53 245.98C290.85 245.67 292.18 245.36 293.50 245.06C294.82 244.75 296.14 244.45 297.46 244.14C298.78 243.83 300.10 243.52 301.42 243.21C302.74 242.89 304.06 242.58 305.38 242.26C306.70 241.94 308.01 241.61 309.33 241.28C310.64 240.95 311.96 240.62 313.27 240.28C314.58 239.94 315.89 239.59 317.20 239.23C318.50 238.88 319.81 238.52 321.12 238.16C322.42 237.80 323.73 237.43 325.03 237.06C326.33 236.70 327.64 236.32 328.94 235.96C330.25 235.59 331.55 235.22 332.86 234.85C334.16 234.49 335.47 234.12 336.77 233.76C338.08 233.39 339.39 233.03 340.70 232.68C342.01 232.32 343.32 231.97 344.63 231.62C345.94 231.28 347.25 230.93 348.56 230.60C349.88 230.26 351.19 229.93 352.51 229.60C353.82 229.28 355.14 228.96 356.46 228.65C357.78 228.34 359.10 228.04 360.43 227.75C361.75 227.45 363.08 227.17 364.41 226.90C365.74 226.62 367.74 226.24 368.40 226.10"/>
<path d="M56.60 284.00C56.65 284.93 56.70 286.17 56.90 289.60C57.10 293.03 57.47 299.78 57.80 304.60C58.13 309.42 58.72 316.18 58.90 318.50"/>
</g>
<g fill="none" stroke="#0000ff" stroke-width="0.68" stroke-dasharray="4 3.4">
<path d="M56.50 -62.45C57.34 -61.97 59.85 -60.53 61.53 -59.60C63.21 -58.66 64.88 -57.75 66.56 -56.85C68.24 -55.94 69.92 -55.06 71.59 -54.18C73.27 -53.31 74.95 -52.45 76.62 -51.61C78.30 -50.76 79.98 -49.93 81.65 -49.11C83.33 -48.29 85.01 -47.49 86.68 -46.69C88.36 -45.90 90.04 -45.11 91.71 -44.34C93.39 -43.57 95.07 -42.81 96.75 -42.06C98.42 -41.31 100.10 -40.57 101.78 -39.84C103.45 -39.11 105.13 -38.39 106.81 -37.68C108.48 -36.96 110.16 -36.26 111.84 -35.57C113.51 -34.88 115.19 -34.19 116.87 -33.52C118.54 -32.84 120.22 -32.18 121.90 -31.52C123.58 -30.86 125.25 -30.21 126.93 -29.57C128.61 -28.92 130.28 -28.29 131.96 -27.66C133.64 -27.03 135.31 -26.41 136.99 -25.80C138.67 -25.18 140.34 -24.58 142.02 -23.98C143.70 -23.38 145.37 -22.79 147.05 -22.20C148.73 -21.61 150.41 -21.03 152.08 -20.46C153.76 -19.88 155.44 -19.31 157.11 -18.75C158.79 -18.19 160.47 -17.63 162.14 -17.08C163.82 -16.53 165.50 -15.99 167.17 -15.45C168.85 -14.91 170.53 -14.37 172.20 -13.84C173.88 -13.31 175.56 -12.79 177.24 -12.27C178.91 -11.75 180.59 -11.24 182.27 -10.73C183.94 -10.22 185.62 -9.71 187.30 -9.21C188.97 -8.71 190.65 -8.22 192.33 -7.73C194.00 -7.24 195.68 -6.75 197.36 -6.27C199.03 -5.79 200.71 -5.31 202.39 -4.84C204.07 -4.36 205.74 -3.89 207.42 -3.43C209.10 -2.96 210.77 -2.50 212.45 -2.04C214.13 -1.59 215.80 -1.13 217.48 -0.68C219.16 -0.23 220.83 0.21 222.51 0.65C224.19 1.10 225.87 1.54 227.54 1.97C229.22 2.41 230.90 2.84 232.57 3.27C234.25 3.70 235.93 4.12 237.60 4.54C239.28 4.96 240.96 5.38 242.63 5.80C244.31 6.21 245.99 6.62 247.66 7.03C249.34 7.44 251.02 7.85 252.70 8.25C254.37 8.65 256.05 9.05 257.73 9.45C259.40 9.85 261.08 10.24 262.76 10.63C264.43 11.02 266.11 11.41 267.79 11.80C269.46 12.18 271.14 12.57 272.82 12.95C274.49 13.33 276.17 13.70 277.85 14.08C279.53 14.45 281.20 14.83 282.88 15.20C284.56 15.57 286.23 15.93 287.91 16.30C289.59 16.66 291.26 17.03 292.94 17.39C294.62 17.75 296.29 18.10 297.97 18.46C299.65 18.81 301.32 19.17 303.00 19.52C304.68 19.87 306.36 20.22 308.03 20.56C309.71 20.91 311.39 21.25 313.06 21.59C314.74 21.94 316.42 22.28 318.09 22.61C319.77 22.95 321.45 23.29 323.12 23.62C324.80 23.95 326.48 24.28 328.15 24.61C329.83 24.94 331.51 25.27 333.19 25.60C334.86 25.92 336.54 26.24 338.22 26.57C339.89 26.89 341.57 27.21 343.25 27.52C344.92 27.84 346.60 28.16 348.28 28.47C349.95 28.79 351.63 29.10 353.31 29.41C354.98 29.72 356.66 30.03 358.34 30.34C360.02 30.64 361.69 30.95 363.37 31.25C365.05 31.55 367.56 32.01 368.40 32.16"/>
<path d="M56.50 -18.60C57.34 -18.12 59.88 -16.67 61.57 -15.73C63.26 -14.79 64.95 -13.87 66.64 -12.96C68.33 -12.06 70.02 -11.16 71.71 -10.29C73.40 -9.41 75.09 -8.55 76.78 -7.70C78.47 -6.85 80.16 -6.01 81.85 -5.19C83.54 -4.36 85.23 -3.55 86.92 -2.76C88.61 -1.96 90.30 -1.17 91.99 -0.39C93.68 0.38 95.37 1.15 97.06 1.90C98.74 2.65 100.43 3.40 102.12 4.13C103.81 4.86 105.50 5.59 107.19 6.30C108.88 7.01 110.57 7.72 112.26 8.41C113.95 9.11 115.64 9.79 117.33 10.47C119.02 11.15 120.71 11.82 122.40 12.48C124.09 13.14 125.78 13.79 127.47 14.44C129.16 15.08 130.85 15.72 132.54 16.35C134.23 16.98 135.92 17.60 137.61 18.22C139.30 18.83 140.99 19.44 142.68 20.04C144.37 20.65 146.06 21.24 147.75 21.83C149.44 22.42 151.13 23.00 152.82 23.58C154.51 24.15 156.20 24.72 157.89 25.28C159.58 25.85 161.27 26.41 162.96 26.96C164.65 27.51 166.34 28.06 168.03 28.60C169.72 29.14 171.41 29.67 173.10 30.20C174.79 30.73 176.48 31.26 178.17 31.78C179.86 32.30 181.54 32.81 183.23 33.32C184.92 33.83 186.61 34.34 188.30 34.84C189.99 35.34 191.68 35.84 193.37 36.33C195.06 36.82 196.75 37.31 198.44 37.79C200.13 38.27 201.82 38.75 203.51 39.22C205.20 39.70 206.89 40.17 208.58 40.63C210.27 41.10 211.96 41.56 213.65 42.02C215.34 42.48 217.03 42.93 218.72 43.38C220.41 43.83 222.10 44.28 223.79 44.72C225.48 45.16 227.17 45.60 228.86 46.04C230.55 46.47 232.24 46.91 233.93 47.34C235.62 47.76 237.31 48.19 239.00 48.61C240.69 49.03 242.38 49.45 244.07 49.87C245.76 50.28 247.45 50.69 249.14 51.10C250.83 51.51 252.52 51.92 254.21 52.32C255.90 52.72 257.59 53.12 259.28 53.52C260.97 53.92 262.66 54.31 264.34 54.70C266.03 55.10 267.72 55.48 269.41 55.87C271.10 56.25 272.79 56.64 274.48 57.02C276.17 57.40 277.86 57.78 279.55 58.15C281.24 58.53 282.93 58.90 284.62 59.27C286.31 59.64 288.00 60.00 289.69 60.37C291.38 60.73 293.07 61.10 294.76 61.46C296.45 61.82 298.14 62.17 299.83 62.53C301.52 62.88 304.06 63.41 304.90 63.59"/>
<path d="M325.40 67.73C326.30 67.90 328.98 68.43 330.77 68.78C332.57 69.13 334.36 69.48 336.15 69.82C337.94 70.16 339.73 70.51 341.52 70.85C343.32 71.18 345.11 71.52 346.90 71.86C348.69 72.19 350.48 72.53 352.27 72.86C354.07 73.19 355.86 73.52 357.65 73.85C359.44 74.17 361.23 74.50 363.02 74.82C364.82 75.14 367.50 75.62 368.40 75.79"/>
<path d="M56.50 27.61C57.34 28.09 59.85 29.52 61.53 30.46C63.21 31.39 64.88 32.30 66.56 33.20C68.24 34.10 69.92 34.98 71.59 35.85C73.27 36.72 74.95 37.58 76.62 38.42C78.30 39.26 79.98 40.09 81.65 40.91C83.33 41.73 85.01 42.53 86.68 43.32C88.36 44.12 90.04 44.90 91.71 45.67C93.39 46.44 95.07 47.20 96.75 47.94C98.42 48.69 100.10 49.43 101.78 50.16C103.45 50.88 105.13 51.60 106.81 52.31C108.48 53.02 110.16 53.72 111.84 54.41C113.51 55.10 115.19 55.78 116.87 56.45C118.54 57.13 120.22 57.79 121.90 58.45C123.58 59.10 125.25 59.75 126.93 60.39C128.61 61.03 130.28 61.66 131.96 62.29C133.64 62.92 135.31 63.53 136.99 64.14C138.67 64.76 140.34 65.36 142.02 65.96C143.70 66.56 145.37 67.15 147.05 67.73C148.73 68.32 150.41 68.89 152.08 69.47C153.76 70.04 155.44 70.60 157.11 71.16C158.79 71.72 160.47 72.28 162.14 72.83C163.82 73.37 165.50 73.92 167.17 74.45C168.85 74.99 170.53 75.52 172.20 76.05C173.88 76.58 175.56 77.10 177.24 77.62C178.91 78.13 180.59 78.64 182.27 79.15C183.94 79.66 185.62 80.16 187.30 80.66C188.97 81.15 190.65 81.65 192.33 82.13C194.00 82.62 195.68 83.11 197.36 83.59C199.03 84.07 200.71 84.54 202.39 85.01C204.07 85.48 205.74 85.95 207.42 86.41C209.10 86.88 210.77 87.33 212.45 87.79C214.13 88.24 215.80 88.70 217.48 89.14C219.16 89.59 220.83 90.03 222.51 90.47C224.19 90.91 225.87 91.35 227.54 91.78C229.22 92.22 230.90 92.65 232.57 93.07C234.25 93.50 235.93 93.92 237.60 94.34C239.28 94.76 240.96 95.17 242.63 95.59C244.31 96.00 245.99 96.41 247.66 96.82C249.34 97.22 251.02 97.63 252.70 98.03C254.37 98.43 256.05 98.82 257.73 99.22C259.40 99.61 261.08 100.01 262.76 100.39C264.43 100.78 266.11 101.17 267.79 101.55C269.46 101.94 271.14 102.32 272.82 102.69C274.49 103.07 276.17 103.45 277.85 103.82C279.53 104.19 281.20 104.56 282.88 104.93C284.56 105.30 286.23 105.66 287.91 106.02C289.59 106.39 291.26 106.75 292.94 107.10C294.62 107.46 296.29 107.82 297.97 108.17C299.65 108.52 301.32 108.87 303.00 109.22C304.68 109.57 306.36 109.91 308.03 110.26C309.71 110.60 311.39 110.94 313.06 111.28C314.74 111.62 316.42 111.96 318.09 112.29C319.77 112.63 321.45 112.96 323.12 113.29C324.80 113.63 326.48 113.95 328.15 114.28C329.83 114.61 331.51 114.93 333.19 115.26C334.86 115.58 336.54 115.90 338.22 116.22C339.89 116.54 341.57 116.86 343.25 117.17C344.92 117.49 346.60 117.80 348.28 118.11C349.95 118.42 351.63 118.73 353.31 119.04C354.98 119.35 356.66 119.65 358.34 119.96C360.02 120.26 361.69 120.57 363.37 120.87C365.05 121.17 367.56 121.62 368.40 121.77"/>
<path d="M56.50 73.30C57.34 73.77 59.85 75.21 61.53 76.14C63.21 77.07 64.89 77.98 66.56 78.88C68.24 79.78 69.92 80.66 71.59 81.53C73.27 82.40 74.95 83.25 76.63 84.10C78.30 84.94 79.98 85.77 81.66 86.58C83.33 87.40 85.01 88.20 86.69 88.99C88.37 89.78 90.04 90.56 91.72 91.33C93.40 92.10 95.07 92.86 96.75 93.61C98.43 94.35 100.11 95.09 101.78 95.82C103.46 96.54 105.14 97.26 106.81 97.97C108.49 98.67 110.17 99.37 111.85 100.06C113.52 100.75 115.20 101.43 116.88 102.10C118.55 102.77 120.23 103.44 121.91 104.09C123.59 104.75 125.26 105.39 126.94 106.03C128.62 106.67 130.30 107.30 131.97 107.93C133.65 108.55 135.33 109.17 137.00 109.78C138.68 110.39 140.36 110.99 142.04 111.59C143.71 112.18 145.39 112.77 147.07 113.36C148.74 113.94 150.42 114.52 152.10 115.09C153.78 115.66 155.45 116.22 157.13 116.78C158.81 117.34 160.48 117.89 162.16 118.44C163.84 118.99 165.52 119.53 167.19 120.07C168.87 120.60 170.55 121.13 172.22 121.66C173.90 122.19 175.58 122.71 177.26 123.22C178.93 123.74 180.61 124.25 182.29 124.75C183.96 125.26 185.64 125.76 187.32 126.26C189.00 126.75 190.67 127.24 192.35 127.73C194.03 128.22 195.70 128.70 197.38 129.18C199.06 129.66 200.74 130.13 202.41 130.60C204.09 131.07 205.77 131.54 207.44 132.00C209.12 132.46 210.80 132.92 212.48 133.37C214.15 133.82 215.83 134.27 217.51 134.72C219.18 135.17 220.86 135.61 222.54 136.05C224.22 136.49 225.89 136.92 227.57 137.35C229.25 137.79 230.92 138.21 232.60 138.64C234.28 139.06 235.96 139.48 237.63 139.90C239.31 140.32 240.99 140.74 242.66 141.15C244.34 141.56 246.02 141.97 247.70 142.37C249.37 142.78 251.05 143.18 252.73 143.58C254.40 143.98 256.08 144.37 257.76 144.77C259.44 145.16 261.11 145.55 262.79 145.94C264.47 146.33 266.15 146.71 267.82 147.09C269.50 147.48 271.18 147.85 272.85 148.23C274.53 148.61 276.21 148.98 277.89 149.35C279.56 149.72 281.24 150.09 282.92 150.46C284.59 150.83 286.27 151.19 287.95 151.55C289.63 151.91 291.30 152.27 292.98 152.63C294.66 152.98 296.33 153.34 298.01 153.69C299.69 154.04 301.37 154.39 303.04 154.74C304.72 155.08 306.40 155.43 308.07 155.77C309.75 156.11 311.43 156.45 313.11 156.79C314.78 157.13 316.46 157.47 318.14 157.80C319.81 158.13 321.49 158.47 323.17 158.80C324.85 159.13 327.36 159.61 328.20 159.78"/>
<path d="M339.60 161.96C340.56 162.14 343.44 162.69 345.36 163.04C347.28 163.40 349.20 163.76 351.12 164.11C353.04 164.46 354.96 164.81 356.88 165.16C358.80 165.51 360.72 165.86 362.64 166.20C364.56 166.54 367.44 167.05 368.40 167.23"/>
<path d="M56.50 121.35C57.34 121.83 59.88 123.27 61.57 124.21C63.26 125.14 64.95 126.06 66.63 126.96C68.32 127.87 70.01 128.75 71.70 129.63C73.39 130.50 75.08 131.36 76.77 132.21C78.46 133.05 80.15 133.88 81.84 134.70C83.53 135.52 85.21 136.33 86.90 137.12C88.59 137.92 90.28 138.70 91.97 139.47C93.66 140.24 95.35 141.00 97.04 141.75C98.73 142.50 100.42 143.24 102.11 143.97C103.79 144.70 105.48 145.42 107.17 146.13C108.86 146.84 110.55 147.54 112.24 148.23C113.93 148.92 115.62 149.60 117.31 150.28C119.00 150.95 120.69 151.62 122.38 152.27C124.06 152.93 125.75 153.58 127.44 154.22C129.13 154.86 130.82 155.50 132.51 156.12C134.20 156.75 135.89 157.37 137.58 157.98C139.27 158.59 140.96 159.19 142.64 159.79C144.33 160.39 146.02 160.98 147.71 161.56C149.40 162.15 151.09 162.73 152.78 163.30C154.47 163.87 156.16 164.44 157.85 165.00C159.54 165.56 161.22 166.11 162.91 166.66C164.60 167.21 166.29 167.75 167.98 168.29C169.67 168.82 171.36 169.35 173.05 169.88C174.74 170.41 176.43 170.93 178.12 171.44C179.80 171.96 181.49 172.47 183.18 172.98C184.87 173.48 186.56 173.98 188.25 174.48C189.94 174.98 191.63 175.47 193.32 175.96C195.01 176.45 196.70 176.93 198.38 177.41C200.07 177.89 201.76 178.36 203.45 178.83C205.14 179.30 206.83 179.77 208.52 180.23C210.21 180.69 211.90 181.15 213.59 181.60C215.28 182.06 216.96 182.51 218.65 182.95C220.34 183.40 222.03 183.84 223.72 184.28C225.41 184.72 227.10 185.15 228.79 185.59C230.48 186.02 232.17 186.45 233.86 186.87C235.54 187.30 237.23 187.72 238.92 188.14C240.61 188.55 242.30 188.97 243.99 189.38C245.68 189.79 247.37 190.20 249.06 190.61C250.75 191.01 252.44 191.41 254.12 191.81C255.81 192.21 257.50 192.61 259.19 193.00C260.88 193.39 262.57 193.78 264.26 194.17C265.95 194.56 267.64 194.94 269.33 195.32C271.02 195.71 272.71 196.09 274.39 196.46C276.08 196.84 277.77 197.21 279.46 197.58C281.15 197.95 282.84 198.32 284.53 198.69C286.22 199.05 287.91 199.42 289.60 199.78C291.29 200.14 292.97 200.50 294.66 200.85C296.35 201.21 298.04 201.56 299.73 201.91C301.42 202.27 303.11 202.61 304.80 202.96C306.49 203.31 308.18 203.65 309.87 203.99C311.55 204.34 313.24 204.68 314.93 205.01C316.62 205.35 319.16 205.85 320.00 206.02"/>
<path d="M345.00 210.81C345.98 210.99 348.90 211.53 350.85 211.89C352.80 212.24 354.75 212.60 356.70 212.95C358.65 213.30 360.60 213.65 362.55 214.00C364.50 214.35 367.42 214.87 368.40 215.04"/>
<path d="M56.50 165.20C57.34 165.68 59.88 167.12 61.57 168.05C63.26 168.99 64.95 169.90 66.63 170.80C68.32 171.71 70.01 172.59 71.70 173.46C73.39 174.34 75.08 175.19 76.77 176.04C78.46 176.88 80.15 177.71 81.84 178.53C83.53 179.35 85.21 180.16 86.90 180.95C88.59 181.74 90.28 182.52 91.97 183.29C93.66 184.07 95.35 184.82 97.04 185.57C98.73 186.32 100.42 187.06 102.11 187.79C103.79 188.52 105.48 189.23 107.17 189.94C108.86 190.65 110.55 191.35 112.24 192.04C113.93 192.73 115.62 193.41 117.31 194.08C119.00 194.76 120.69 195.42 122.38 196.08C124.06 196.73 125.75 197.38 127.44 198.02C129.13 198.66 130.82 199.29 132.51 199.92C134.20 200.54 135.89 201.16 137.58 201.77C139.27 202.38 140.96 202.98 142.64 203.58C144.33 204.17 146.02 204.76 147.71 205.35C149.40 205.93 151.09 206.51 152.78 207.08C154.47 207.65 156.16 208.21 157.85 208.77C159.54 209.33 161.22 209.88 162.91 210.43C164.60 210.98 166.29 211.52 167.98 212.05C169.67 212.59 171.36 213.12 173.05 213.65C174.74 214.17 176.43 214.69 178.12 215.21C179.80 215.72 181.49 216.23 183.18 216.74C184.87 217.24 186.56 217.74 188.25 218.24C189.94 218.73 191.63 219.22 193.32 219.71C195.01 220.20 196.70 220.68 198.38 221.15C200.07 221.63 201.76 222.11 203.45 222.57C205.14 223.04 206.83 223.51 208.52 223.97C210.21 224.43 211.90 224.89 213.59 225.34C215.28 225.79 216.96 226.24 218.65 226.69C220.34 227.13 222.03 227.57 223.72 228.01C225.41 228.45 227.10 228.88 228.79 229.31C230.48 229.74 232.17 230.17 233.86 230.59C235.54 231.02 237.23 231.44 238.92 231.85C240.61 232.27 242.30 232.69 243.99 233.10C245.68 233.51 247.37 233.91 249.06 234.32C250.75 234.72 252.44 235.12 254.12 235.52C255.81 235.92 257.50 236.31 259.19 236.70C260.88 237.10 262.57 237.49 264.26 237.87C265.95 238.26 267.64 238.64 269.33 239.02C271.02 239.40 272.71 239.78 274.39 240.16C276.08 240.53 277.77 240.90 279.46 241.27C281.15 241.64 282.84 242.01 284.53 242.37C286.22 242.74 287.91 243.10 289.60 243.46C291.29 243.82 292.97 244.18 294.66 244.53C296.35 244.89 298.04 245.24 299.73 245.59C301.42 245.94 303.11 246.29 304.80 246.63C306.49 246.98 308.18 247.32 309.87 247.66C311.55 248.00 313.24 248.34 314.93 248.68C316.62 249.02 319.16 249.51 320.00 249.68"/>
<path d="M345.00 254.45C345.98 254.63 348.90 255.17 350.85 255.53C352.80 255.88 354.75 256.24 356.70 256.59C358.65 256.94 360.60 257.29 362.55 257.63C364.50 257.98 367.42 258.49 368.40 258.67"/>
<path d="M56.50 213.25C57.34 213.73 59.87 215.16 61.55 216.09C63.24 217.02 64.92 217.94 66.60 218.83C68.29 219.73 69.97 220.61 71.66 221.48C73.34 222.35 75.02 223.20 76.71 224.04C78.39 224.89 80.08 225.71 81.76 226.53C83.44 227.34 85.13 228.14 86.81 228.93C88.50 229.73 90.18 230.50 91.86 231.27C93.55 232.04 95.23 232.79 96.92 233.54C98.60 234.29 100.28 235.02 101.97 235.75C103.65 236.47 105.34 237.19 107.02 237.89C108.70 238.60 110.39 239.29 112.07 239.98C113.76 240.67 115.44 241.35 117.12 242.02C118.81 242.69 120.49 243.35 122.17 244.00C123.86 244.65 125.54 245.30 127.23 245.94C128.91 246.57 130.59 247.20 132.28 247.82C133.96 248.45 135.65 249.06 137.33 249.67C139.01 250.28 140.70 250.88 142.38 251.47C144.07 252.07 145.75 252.65 147.43 253.23C149.12 253.82 150.80 254.39 152.49 254.96C154.17 255.53 155.85 256.09 157.54 256.64C159.22 257.20 160.91 257.75 162.59 258.30C164.27 258.84 165.96 259.38 167.64 259.91C169.33 260.45 171.01 260.98 172.69 261.50C174.38 262.02 176.06 262.54 177.75 263.05C179.43 263.56 181.11 264.07 182.80 264.58C184.48 265.08 186.17 265.58 187.85 266.07C189.53 266.56 191.22 267.05 192.90 267.54C194.59 268.02 196.27 268.50 197.95 268.98C199.64 269.45 201.32 269.92 203.01 270.39C204.69 270.86 206.37 271.32 208.06 271.78C209.74 272.24 211.43 272.69 213.11 273.14C214.79 273.59 216.48 274.04 218.16 274.48C219.85 274.93 221.53 275.37 223.21 275.80C224.90 276.24 226.58 276.67 228.27 277.10C229.95 277.53 231.63 277.95 233.32 278.38C235.00 278.80 236.69 279.22 238.37 279.63C240.05 280.05 241.74 280.46 243.42 280.87C245.11 281.27 246.79 281.68 248.47 282.08C250.16 282.48 251.84 282.88 253.52 283.28C255.21 283.68 256.89 284.07 258.58 284.46C260.26 284.85 261.94 285.24 263.63 285.62C265.31 286.01 267.00 286.39 268.68 286.77C270.36 287.14 272.05 287.52 273.73 287.89C275.42 288.27 277.10 288.64 278.78 289.01C280.47 289.37 282.15 289.74 283.84 290.10C285.52 290.47 287.20 290.83 288.89 291.18C290.57 291.54 292.26 291.90 293.94 292.25C295.62 292.60 297.31 292.95 298.99 293.30C300.68 293.65 302.36 294.00 304.04 294.34C305.73 294.68 307.41 295.03 309.10 295.37C310.78 295.70 312.46 296.04 314.15 296.38C315.83 296.71 318.36 297.21 319.20 297.37"/>
<path d="M348.40 302.91C349.23 303.06 351.73 303.51 353.40 303.81C355.07 304.12 356.73 304.42 358.40 304.71C360.07 305.01 361.73 305.31 363.40 305.60C365.07 305.90 367.57 306.33 368.40 306.48"/>
<path d="M56.50 257.10C57.36 257.58 59.94 259.05 61.66 260.00C63.38 260.95 65.11 261.88 66.83 262.79C68.55 263.71 70.27 264.61 71.99 265.49C73.71 266.38 75.43 267.24 77.15 268.10C78.87 268.96 80.59 269.80 82.32 270.63C84.04 271.45 85.76 272.27 87.48 273.07C89.20 273.88 90.92 274.67 92.64 275.45C94.36 276.23 96.08 276.99 97.81 277.75C99.53 278.51 101.25 279.25 102.97 279.99C104.69 280.73 106.41 281.45 108.13 282.17C109.85 282.88 111.57 283.59 113.29 284.29C115.02 284.98 116.74 285.67 118.46 286.35C120.18 287.03 121.90 287.70 123.62 288.36C125.34 289.02 127.06 289.67 128.78 290.32C130.51 290.96 132.23 291.60 133.95 292.23C135.67 292.86 137.39 293.48 139.11 294.10C140.83 294.71 142.55 295.32 144.27 295.92C145.99 296.52 147.72 297.12 149.44 297.70C151.16 298.29 153.74 299.16 154.60 299.45"/>
<path d="M185.90 309.25C186.74 309.50 189.28 310.24 190.97 310.73C192.66 311.22 194.35 311.70 196.04 312.18C197.73 312.66 199.42 313.14 201.11 313.61C202.80 314.08 204.49 314.54 206.18 315.01C207.87 315.47 209.56 315.93 211.25 316.38C212.94 316.84 214.63 317.29 216.32 317.73C218.01 318.18 219.70 318.62 221.39 319.06C223.08 319.50 224.77 319.93 226.46 320.37C228.15 320.80 229.84 321.23 231.53 321.65C233.21 322.07 234.90 322.50 236.59 322.91C238.28 323.33 239.97 323.74 241.66 324.16C243.35 324.57 245.04 324.97 246.73 325.38C248.42 325.78 250.11 326.19 251.80 326.58C253.49 326.98 255.18 327.38 256.87 327.77C258.56 328.16 260.25 328.55 261.94 328.94C263.63 329.32 265.32 329.71 267.01 330.09C268.70 330.47 270.39 330.85 272.08 331.22C273.77 331.60 275.46 331.97 277.15 332.34C278.84 332.71 280.53 333.08 282.22 333.44C283.91 333.81 285.60 334.17 287.29 334.53C288.98 334.89 290.67 335.25 292.36 335.60C294.05 335.95 295.74 336.31 297.43 336.66C299.12 337.01 300.81 337.35 302.50 337.70C304.19 338.04 305.88 338.39 307.57 338.73C309.26 339.07 310.95 339.41 312.64 339.74C314.33 340.08 316.02 340.41 317.71 340.74C319.40 341.08 321.09 341.41 322.77 341.73C324.46 342.06 326.15 342.39 327.84 342.71C329.53 343.03 331.22 343.36 332.91 343.67C334.60 343.99 336.29 344.31 337.98 344.63C339.67 344.94 341.36 345.26 343.05 345.57C344.74 345.88 346.43 346.19 348.12 346.50C349.81 346.81 351.50 347.11 353.19 347.42C354.88 347.72 356.57 348.02 358.26 348.32C359.95 348.62 361.64 348.92 363.33 349.22C365.02 349.52 367.56 349.96 368.40 350.11"/>
<path d="M56.50 304.25C57.34 304.72 59.85 306.15 61.53 307.07C63.21 308.00 64.88 308.90 66.56 309.80C68.24 310.69 69.92 311.56 71.59 312.43C73.27 313.29 74.95 314.14 76.62 314.97C78.30 315.81 79.98 316.63 81.65 317.44C83.33 318.25 85.01 319.04 86.68 319.83C88.36 320.62 90.04 321.39 91.71 322.15C93.39 322.91 95.07 323.66 96.75 324.41C98.42 325.15 100.10 325.88 101.78 326.60C103.45 327.32 105.13 328.03 106.81 328.73C108.48 329.43 110.16 330.12 111.84 330.80C113.51 331.49 115.19 332.16 116.87 332.83C118.54 333.49 120.22 334.15 121.90 334.80C123.58 335.44 125.25 336.09 126.93 336.72C128.61 337.35 130.28 337.98 131.96 338.60C133.64 339.21 135.31 339.82 136.99 340.43C138.67 341.03 140.34 341.63 142.02 342.22C143.70 342.81 145.37 343.39 147.05 343.97C148.73 344.55 150.41 345.12 152.08 345.68C153.76 346.25 155.44 346.80 157.11 347.36C158.79 347.91 160.47 348.45 162.14 349.00C163.82 349.54 165.50 350.07 167.17 350.60C168.85 351.13 170.53 351.66 172.20 352.18C173.88 352.70 175.56 353.21 177.24 353.72C178.91 354.23 180.59 354.73 182.27 355.23C183.94 355.73 185.62 356.23 187.30 356.72C188.97 357.21 190.65 357.69 192.33 358.17C194.00 358.65 195.68 359.13 197.36 359.60C199.03 360.07 200.71 360.54 202.39 361.00C204.07 361.47 205.74 361.93 207.42 362.38C209.10 362.84 210.77 363.29 212.45 363.74C214.13 364.18 215.80 364.63 217.48 365.07C219.16 365.51 220.83 365.94 222.51 366.38C224.19 366.81 225.87 367.24 227.54 367.66C229.22 368.09 230.90 368.51 232.57 368.93C234.25 369.35 235.93 369.76 237.60 370.17C239.28 370.59 240.96 371.00 242.63 371.40C244.31 371.81 245.99 372.21 247.66 372.61C249.34 373.01 251.02 373.40 252.70 373.80C254.37 374.19 256.05 374.58 257.73 374.97C259.40 375.35 261.08 375.74 262.76 376.12C264.43 376.50 266.11 376.88 267.79 377.25C269.46 377.63 271.14 378.00 272.82 378.37C274.49 378.74 276.17 379.11 277.85 379.48C279.53 379.84 281.20 380.20 282.88 380.56C284.56 380.92 286.23 381.28 287.91 381.64C289.59 381.99 291.26 382.34 292.94 382.69C294.62 383.04 296.29 383.39 297.97 383.74C299.65 384.08 301.32 384.42 303.00 384.76C304.68 385.11 306.36 385.44 308.03 385.78C309.71 386.12 311.39 386.45 313.06 386.78C314.74 387.11 316.42 387.44 318.09 387.77C319.77 388.10 321.45 388.43 323.12 388.75C324.80 389.07 326.48 389.39 328.15 389.71C329.83 390.03 331.51 390.35 333.19 390.67C334.86 390.98 336.54 391.29 338.22 391.61C339.89 391.92 341.57 392.23 343.25 392.54C344.92 392.84 346.60 393.15 348.28 393.45C349.95 393.76 351.63 394.06 353.31 394.36C354.98 394.66 356.66 394.96 358.34 395.26C360.02 395.55 361.69 395.85 363.37 396.14C365.05 396.44 367.56 396.87 368.40 397.02"/>
</g>
</g>
<g fill="none" stroke="#444" stroke-width="0.65">
<rect x="56.50" y="6.90" width="311.90" height="311.50"/>
</g><g fill="none" stroke="#222" stroke-width="0.5">
<path d="M73.21 318.40v-2.00 M73.21 6.90v2.00 M90.55 318.40v-3.40 M90.55 6.90v3.40 M107.89 318.40v-2.00 M107.89 6.90v2.00 M125.23 318.40v-2.00 M125.23 6.90v2.00 M142.57 318.40v-2.00 M142.57 6.90v2.00 M159.91 318.40v-2.00 M159.91 6.90v2.00 M177.25 318.40v-3.40 M177.25 6.90v3.40 M194.59 318.40v-2.00 M194.59 6.90v2.00 M211.93 318.40v-2.00 M211.93 6.90v2.00 M229.27 318.40v-2.00 M229.27 6.90v2.00 M246.61 318.40v-2.00 M246.61 6.90v2.00 M263.95 318.40v-3.40 M263.95 6.90v3.40 M281.29 318.40v-2.00 M281.29 6.90v2.00 M298.63 318.40v-2.00 M298.63 6.90v2.00 M315.97 318.40v-2.00 M315.97 6.90v2.00 M333.31 318.40v-2.00 M333.31 6.90v2.00 M350.65 318.40v-3.40 M350.65 6.90v3.40 M56.50 318.40h3.40 M368.40 318.40h-3.40 M56.50 263.28h2.00 M368.40 263.28h-2.00 M56.50 231.04h2.00 M368.40 231.04h-2.00 M56.50 208.16h2.00 M368.40 208.16h-2.00 M56.50 190.42h2.00 M368.40 190.42h-2.00 M56.50 175.92h2.00 M368.40 175.92h-2.00 M56.50 163.66h2.00 M368.40 163.66h-2.00 M56.50 153.04h2.00 M368.40 153.04h-2.00 M56.50 143.68h2.00 M368.40 143.68h-2.00 M56.50 135.30h3.40 M368.40 135.30h-3.40 M56.50 79.82h2.00 M368.40 79.82h-2.00 M56.50 47.37h2.00 M368.40 47.37h-2.00 M56.50 24.34h2.00 M368.40 24.34h-2.00 "/>
</g>
<g font-family="'Liberation Serif', serif" font-size="14px" text-anchor="middle" filter="url(#g)">
<text x="88.45" y="29" fill="#000">100</text>
<text x="116.70" y="34" fill="#000">50</text>
<text x="139.40" y="46" fill="#000">25</text>
<text x="177.40" y="60" fill="#000">10</text>
<text x="85.70" y="168" fill="#000">5</text>
<text x="85.70" y="198" fill="#000">3</text>
<text x="91.45" y="225" fill="#000">2</text>
<text x="90.40" y="254" fill="#000">1.5</text>
<text x="111.40" y="268" fill="#000">1.3</text>
<text x="135.95" y="275" fill="#000">1.2</text>
<text x="168.85" y="286" fill="#000">1.1</text>
<text x="315.90" y="69" fill="#00f">10</text>
<text x="342.80" y="111" fill="#00f" font-style="italic" font-size="14.3px">π</text>
<text x="333.30" y="166" fill="#00f">1</text>
<text x="333.50" y="213" fill="#00f">0.3</text>
<text x="334.15" y="258" fill="#00f">0.1</text>
<text x="333.50" y="304" fill="#00f">0.03</text>
<text x="169.20" y="308" fill="#00f">0.01</text>
<text x="90.75" y="332" fill="#000">1000</text>
<text x="176.20" y="332" fill="#000">1500</text>
<text x="263.60" y="332" fill="#000">2000</text>
<text x="350.70" y="332" fill="#000">2500</text>
</g>
<g font-family="'Liberation Serif', serif" fill="#000" filter="url(#g)">
<text x="33.6" y="139.9" font-size="14px">10</text>
<text x="48.0" y="134.9" font-size="9.8px">0</text>
<text x="27.7" y="324.0" font-size="14px">10</text>
<text x="42.4" y="318.7" font-size="9.8px">−1</text>
<text x="175" y="355.7" font-size="18px"><tspan font-style="italic">M</tspan><tspan font-style="italic" font-size="13px" dy="3.5">η</tspan><tspan dy="-3.5" dx="2"> [GeV]</tspan></text>
<text transform="translate(14.4,170.5) rotate(-90)" font-size="18px"><tspan font-style="italic">a</tspan><tspan font-style="italic" font-size="13px" dy="2.9">η</tspan></text>
</g>
</svg>
</body></html>
